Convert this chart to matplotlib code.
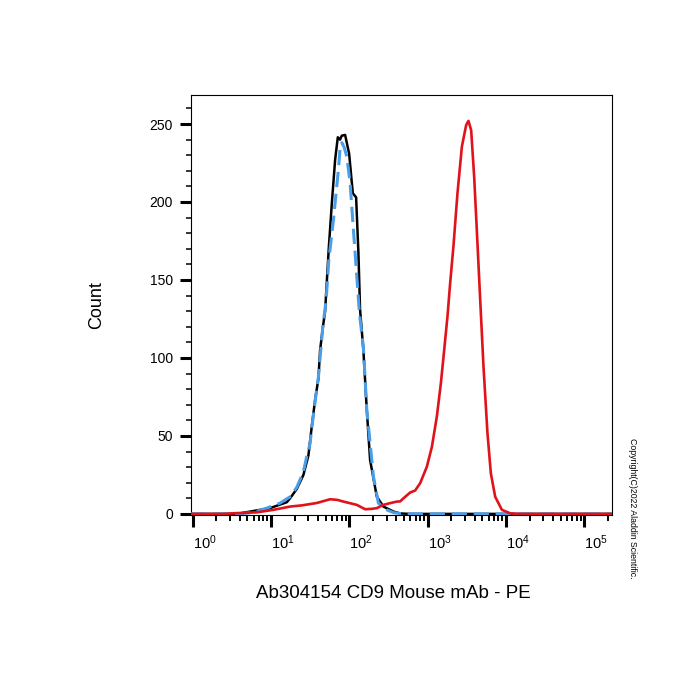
import numpy as np
import matplotlib
matplotlib.use('Agg')
import matplotlib.pyplot as plt
from matplotlib.ticker import FixedLocator, LogLocator, MultipleLocator, NullFormatter

plt.rcParams['font.family'] = ['Liberation Sans', 'DejaVu Sans']
plt.rcParams['mathtext.fontset'] = 'custom'
plt.rcParams['mathtext.rm'] = 'Liberation Sans'
plt.rcParams['mathtext.it'] = 'Liberation Sans:italic'
plt.rcParams['mathtext.bf'] = 'Liberation Sans:bold'

# ---------------- data ----------------
black_x = [0.95, 3.65, 5.4, 9.7, 15.9, 17.5, 21.3, 25.9, 30.0, 33.1, 36.5, 40.3,
           42.3, 46.0, 49.0, 54.7, 59.7, 65.8, 71.2, 76.0, 80.0, 88.3, 99.3,
           110.7, 122.0, 130.6, 137.0, 151.0, 167.0, 184.0, 224.0, 272.0, 366.0,
           445.0, 600.0, 226000.0]
black_y = [0, 0, 1.5, 3.7, 7.5, 10, 16, 25, 37.5, 56, 73, 87,
           105, 120, 130, 171, 199, 227, 241.5, 240, 242.5, 243, 231,
           205.6, 203, 167, 131, 105, 66.7, 34.6, 11.1, 4.7, 1.5,
           0.3, 0, 0]

blue_x = [0.95, 4.0, 6.0, 8.8, 13.0, 17.5, 21.3, 25.9, 28.6, 31.5, 33.1, 36.5,
          40.3, 45.8, 50.5, 54.7, 62.6, 72.4, 76.0, 80.1, 86.0, 92.8, 102.3,
          112.7, 122.0, 134.5, 151.0, 167.0, 203.0, 235.0, 301.0, 366.0, 500.0,
          226000.0]
blue_y = [0, 0, 1, 3.7, 6.9, 11, 17, 27, 37, 45, 55, 72,
          88, 120, 137, 163, 188.5, 220.5, 234, 238, 235, 229, 212,
          182, 158.5, 128.6, 107, 66.7, 24, 6.9, 2.6, 0.8, 0,
          0]

red_x = [0.95, 2.5, 3.3, 6.57, 10.7, 17.5, 25.0, 38.4, 56.8, 70.0, 84.0, 124.5,
         159.0, 190.0, 224.0, 272.0, 332.0, 404.0, 445.0, 491.0, 597.0, 692.0,
         802.0, 977.0, 1132.0, 1310.0, 1475.0, 1625.0, 1790.0, 1938.0, 2137.0,
         2403.0, 2735.0, 3105.0, 3320.0, 3594.0, 3928.0, 4325.0, 4690.0, 5165.0,
         5805.0, 6414.0, 7283.0, 8873.0, 11320.0, 14000.0, 226000.0]
red_y = [0, 0, 0.4, 1, 2.6, 4.7, 5.5, 7.0, 9.4, 9.0, 7.9, 5.8,
         3.0, 3.2, 3.7, 5.8, 6.9, 7.9, 8.0, 10, 13.7, 15,
         19.7, 30.3, 43, 62.4, 83.8, 105, 126.5, 148, 172,
         205.6, 235.5, 249.4, 252, 246, 216, 173.5, 137, 94.4,
         51.7, 26, 11, 2.6, 0.4, 0, 0]

x_tick_exponents = [0, 1, 2, 3, 4, 5]
y_ticks = [0, 50, 100, 150, 200, 250]
x_label = 'Ab304154 CD9 Mouse mAb - PE'
y_label = 'Count'
copyright_text = 'Copyright(C)2022 Aladdin Scientific.'

# ---------------- figure ----------------
fig = plt.figure(figsize=(7, 7), dpi=100)
ax = fig.add_axes([191 / 700, 1 - 515 / 700, 421 / 700, 420 / 700])

ax.plot(black_x, black_y, color='black', lw=1.8, zorder=3)
ax.plot(blue_x, blue_y, color='#4a9de6', lw=2.2, dashes=(5, 2.2), zorder=4)
ax.plot(red_x, red_y, color='#e0131b', lw=1.9, zorder=5)

ax.set_xscale('log')
ax.set_xlim(0.95, 226000)
ax.set_ylim(-0.7, 268.6)

ax.xaxis.set_major_locator(FixedLocator([10.0 ** e for e in x_tick_exponents]))
ax.xaxis.set_minor_locator(LogLocator(base=10, subs=np.arange(2, 10) * 1.0, numticks=30))
ax.xaxis.set_minor_formatter(NullFormatter())
ax.set_xticklabels([r'$\mathregular{10^{%d}}$' % e for e in x_tick_exponents], ha='left')

ax.yaxis.set_major_locator(FixedLocator(y_ticks))
ax.yaxis.set_minor_locator(MultipleLocator(10))

ax.tick_params(axis='x', which='major', direction='out', length=8.6, width=2.2, pad=5, labelsize=10.5)
ax.tick_params(axis='x', which='minor', direction='out', length=4.3, width=1.4)
ax.tick_params(axis='y', which='major', direction='out', length=8, width=2.2, pad=5, labelsize=10)
ax.tick_params(axis='y', which='minor', direction='out', length=3.6, width=1.1)

for s in ax.spines.values():
    s.set_linewidth(0.8)
    s.set_color('black')

ax.set_ylabel(y_label, fontsize=13, va='center')
ax.yaxis.set_label_coords((97 - 191) / 421, 0.5)
ax.set_xlabel(x_label, fontsize=13.5, va='center')
ax.xaxis.set_label_coords((393.5 - 191) / 421, (515 - 593) / 420)

fig.text(632 / 700, 1 - 508 / 700, copyright_text, rotation=270,
         ha='center', va='center', fontsize=6.3)

fig.savefig('out.png', dpi=100)
